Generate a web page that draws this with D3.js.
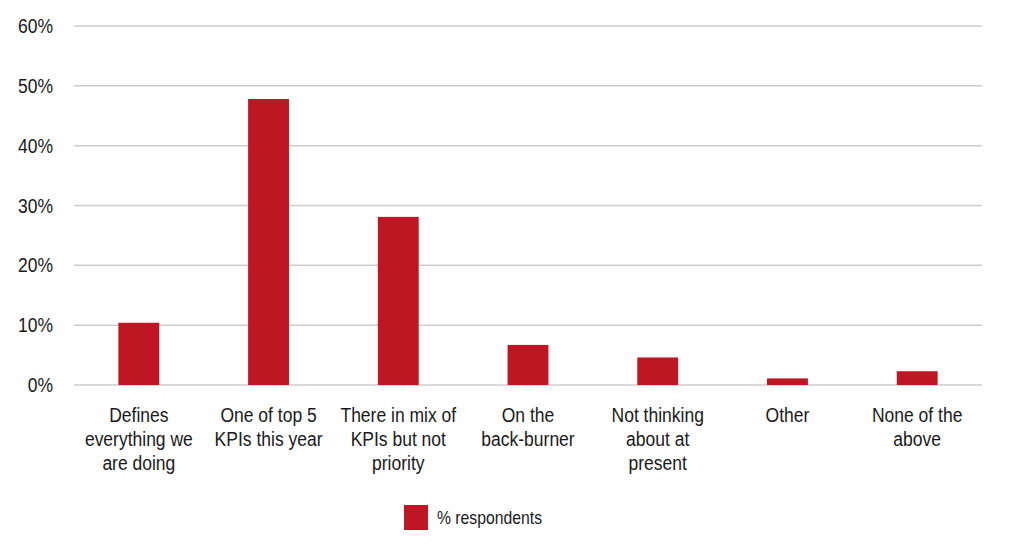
<!DOCTYPE html>
<html lang="en">
<head>
    <meta charset="UTF-8">
    <title>% respondents</title>
    <script src="https://d3js.org/d3.v7.min.js"></script>
    <style>
        body {
            margin: 0;
            background-color: #ffffff;
            font-family: 'Liberation Sans', Arial, sans-serif;
        }
        .grid line {
            stroke: #cccccc;
            stroke-width: 1.5px;
        }
        .tick-label, .cat-label, .legend-text {
            fill: #1a1a1a;
            font-size: 20px;
        }
    </style>
</head>
<body>
    <div id="chart"></div>
    <script>
        // Data
        const categories = [
            ["Defines", "everything we", "are doing"],
            ["One of top 5", "KPIs this year"],
            ["There in mix of", "KPIs but not", "priority"],
            ["On the", "back-burner"],
            ["Not thinking", "about at", "present"],
            ["Other"],
            ["None of the", "above"]
        ];
        const values = [10.4, 47.8, 28.1, 6.7, 4.6, 1.1, 2.3];
        const yTicks = [0, 10, 20, 30, 40, 50, 60];
        const seriesName = "% respondents";

        const W = 1016, H = 557;
        const margin = {top: 26, right: 34, bottom: 172, left: 74};
        const width = W - margin.left - margin.right,
              height = H - margin.top - margin.bottom;
        // the original face is a condensed grotesque, squeeze a regular one
        const squeeze = 0.875;

        const svg = d3.select("#chart")
            .append("svg")
            .attr("width", W)
            .attr("height", H);

        const g = svg.append("g")
            .attr("transform", `translate(${margin.left},${margin.top})`);

        const keys = categories.map((c, i) => i);
        const x = d3.scaleBand()
            .domain(keys)
            .range([0, width])
            .paddingInner(0.685)
            .paddingOuter(0.342);
        const xc = d3.scaleBand().domain(keys).range([0, width]);

        const y = d3.scaleLinear()
            .domain([0, 60])
            .range([height, 0]);

        // gridlines
        g.append("g")
            .attr("class", "grid")
            .selectAll("line")
            .data(yTicks)
            .join("line")
            .attr("x1", 0)
            .attr("x2", width)
            .attr("y1", d => y(d))
            .attr("y2", d => y(d));

        // y labels
        g.append("g")
            .selectAll("text")
            .data(yTicks)
            .join("text")
            .attr("class", "tick-label")
            .attr("transform", d => `translate(-21,${y(d)}) scale(${squeeze},1)`)
            .attr("dy", "0.35em")
            .attr("text-anchor", "end")
            .text(d => d + "%");

        // bars
        g.append("g")
            .selectAll("rect")
            .data(values)
            .join("rect")
            .attr("x", (d, i) => x(i))
            .attr("width", x.bandwidth())
            .attr("y", d => y(d))
            .attr("height", d => height - y(d))
            .attr("fill", "#be1622");

        // category labels
        const labels = g.append("g")
            .selectAll("text")
            .data(categories)
            .join("text")
            .attr("class", "cat-label")
            .attr("text-anchor", "middle")
            .attr("transform", (d, i) => `translate(${xc(i) + xc.bandwidth() / 2},${height + 37}) scale(${squeeze},1)`);
        labels.selectAll("tspan")
            .data(d => d)
            .join("tspan")
            .attr("x", 0)
            .attr("y", (d, i) => i * 24)
            .text(d => d);

        // legend
        const legend = svg.append("g")
            .attr("transform", "translate(404,505)");
        legend.append("rect")
            .attr("width", 24)
            .attr("height", 25)
            .attr("fill", "#be1622");
        legend.append("text")
            .attr("class", "legend-text")
            .attr("transform", `translate(33,13) scale(${squeeze},1)`)
            .attr("dy", "0.35em")
            .style("font-size", "18px")
            .text(seriesName);
    </script>
</body>
</html>
